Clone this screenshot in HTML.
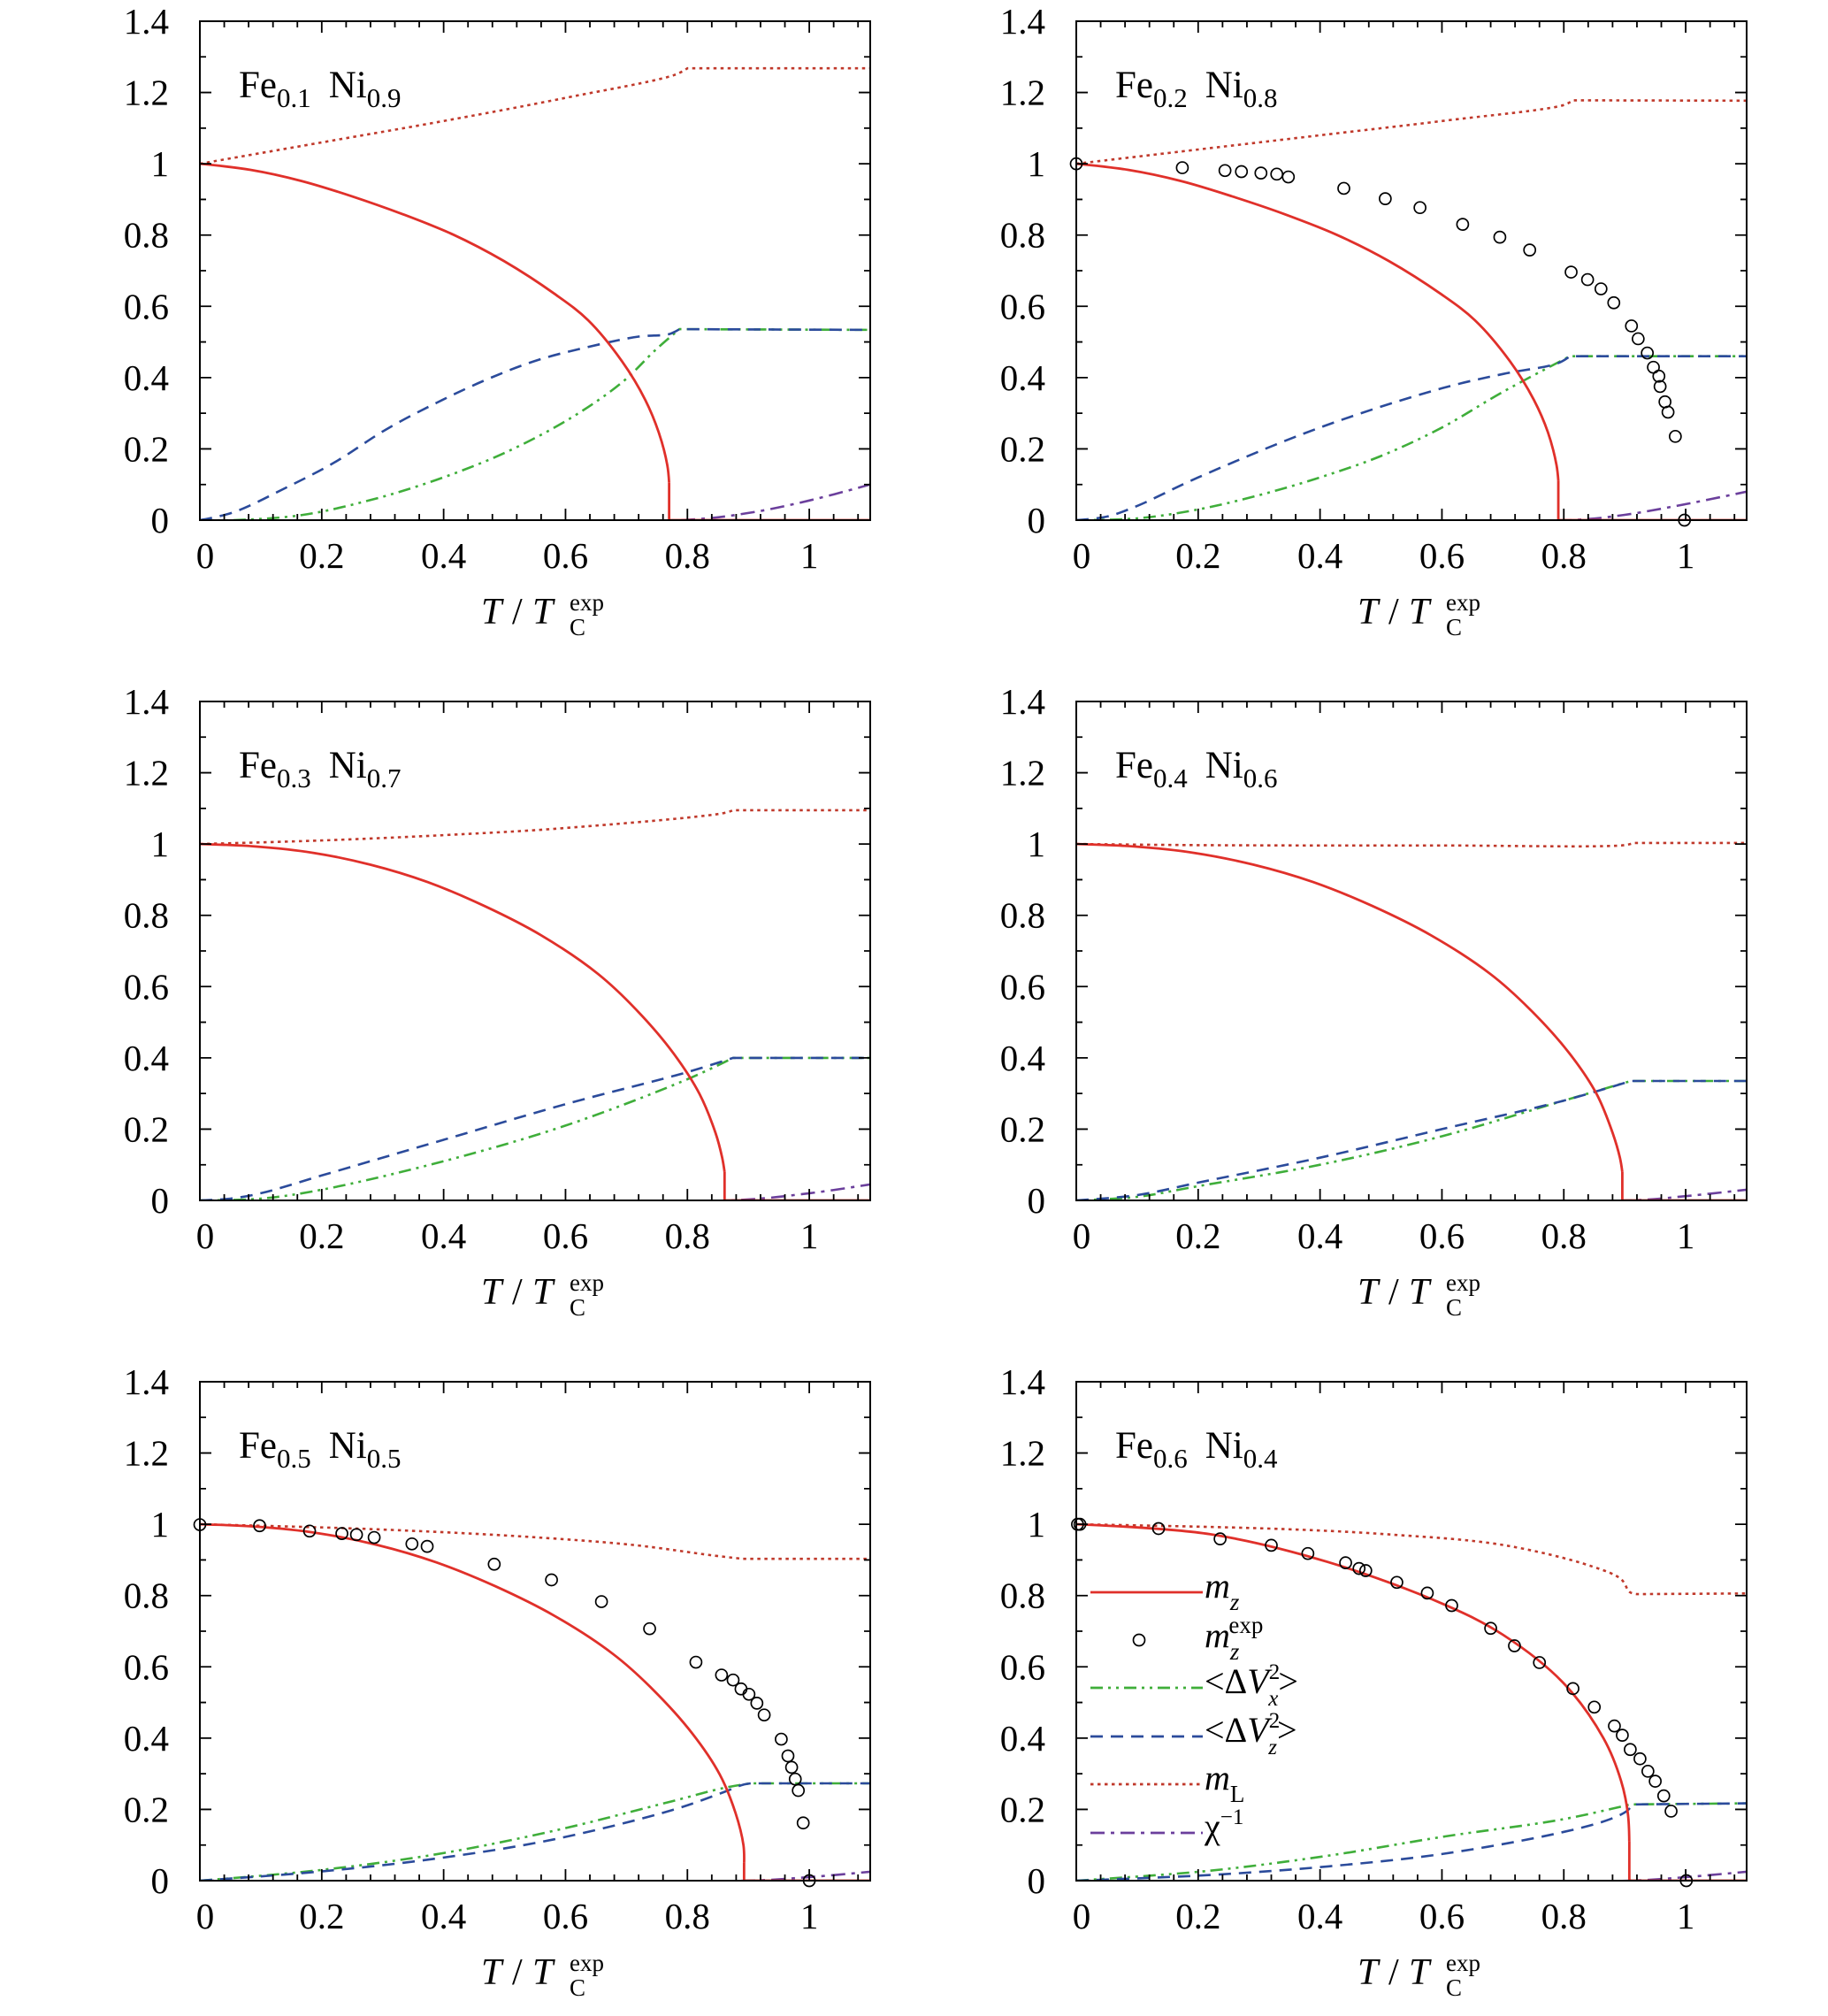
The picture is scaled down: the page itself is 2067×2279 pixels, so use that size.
<!DOCTYPE html>
<html><head><meta charset="utf-8">
<style>
html,body{margin:0;padding:0;background:#fff;}
svg{display:block;}
text{font-family:"Liberation Serif",serif;fill:#000;}
</style></head>
<body>
<svg id="chart" width="2067" height="2279" viewBox="0 0 2067 2279" xmlns="http://www.w3.org/2000/svg"></svg>
<script>
// ---- data (T/Tc, value) ----
const xTicks = [0,0.2,0.4,0.6,0.8,1];
const xTickLabels = ["0","0.2","0.4","0.6","0.8","1"];
const yTicks = [0,0.2,0.4,0.6,0.8,1,1.2,1.4];
const yTickLabels = ["0","0.2","0.4","0.6","0.8","1","1.2","1.4"];
const fe = ["0.1","0.2","0.3","0.4","0.5","0.6"];
const ni = ["0.9","0.8","0.7","0.6","0.5","0.4"];

const mz1 = [[0,1],[0.083,0.983],[0.166,0.952],[0.249,0.909],[0.332,0.859],[0.416,0.801],[0.499,0.727],[0.582,0.635],[0.637,0.561],[0.693,0.445],[0.731,0.337],[0.753,0.246],[0.767,0.155],[0.77,0.105]];
const mz2 = [[0,1],[0.085,0.983],[0.171,0.952],[0.255,0.909],[0.341,0.859],[0.427,0.801],[0.513,0.727],[0.598,0.635],[0.654,0.561],[0.712,0.445],[0.751,0.337],[0.774,0.246],[0.788,0.155],[0.791,0.11]];
const mz3 = [[0,1],[0.093,0.993],[0.187,0.975],[0.28,0.942],[0.374,0.893],[0.467,0.826],[0.56,0.744],[0.653,0.636],[0.715,0.537],[0.777,0.413],[0.82,0.298],[0.846,0.19],[0.857,0.12],[0.861,0.08]];
const mz4 = [[0,1],[0.097,0.993],[0.194,0.975],[0.291,0.942],[0.389,0.893],[0.486,0.826],[0.582,0.744],[0.679,0.636],[0.744,0.537],[0.809,0.413],[0.854,0.298],[0.88,0.19],[0.892,0.12],[0.896,0.08]];
const mz5 = [[0,1],[0.097,0.993],[0.194,0.975],[0.291,0.942],[0.388,0.893],[0.485,0.826],[0.581,0.744],[0.678,0.636],[0.743,0.537],[0.808,0.413],[0.853,0.298],[0.879,0.19],[0.892,0.099],[0.893,0.05]];
const mz6 = [[0,1],[0.22,0.972],[0.413,0.894],[0.605,0.774],[0.70,0.69],[0.798,0.557],[0.865,0.40],[0.894,0.28],[0.905,0.19],[0.9075,0.11]];
const tc = [0.77,0.791,0.861,0.896,0.893,0.9075];

const mL1 = [[0,1],[0.2,1.06],[0.4,1.12],[0.6,1.185],[0.78,1.25],[0.8,1.268],[1.1,1.268]];
const mL2 = [[0,1],[0.2,1.04],[0.4,1.08],[0.6,1.12],[0.8,1.165],[0.815,1.178],[1.1,1.177]];
const mL3 = [[0,1],[0.2,1.01],[0.4,1.025],[0.6,1.045],[0.86,1.087],[0.875,1.095],[1.1,1.095]];
const mL4 = [[0,1],[0.2,0.997],[0.4,0.996],[0.6,0.996],[0.9,0.997],[0.915,1.003],[1.1,1.003]];
const mL5 = [[0,1],[0.258,0.988],[0.517,0.967],[0.711,0.942],[0.84,0.913],[0.891,0.903],[1.1,0.903]];
const mL6 = [[0,1],[0.317,0.988],[0.509,0.972],[0.70,0.942],[0.846,0.882],[0.894,0.846],[0.908,0.81],[0.92,0.804],[1.1,0.806]];

const vz1 = [[0,0],[0.055,0.022],[0.139,0.089],[0.222,0.163],[0.305,0.254],[0.388,0.329],[0.471,0.395],[0.554,0.449],[0.637,0.486],[0.72,0.515],[0.77,0.522],[0.787,0.536],[1.1,0.534]];
const vz2 = [[0,0],[0.05,0.01],[0.1,0.04],[0.2,0.12],[0.4,0.26],[0.6,0.37],[0.7,0.41],[0.79,0.44],[0.81,0.46],[1.1,0.46]];
const vz3 = [[0,0],[0.05,0.005],[0.1,0.02],[0.2,0.07],[0.4,0.17],[0.6,0.27],[0.8,0.36],[0.875,0.4],[1.1,0.4]];
const vz4 = [[0,0],[0.1,0.015],[0.2,0.05],[0.4,0.12],[0.6,0.2],[0.8,0.28],[0.91,0.335],[1.1,0.335]];
const vz5 = [[0,0],[0.194,0.025],[0.388,0.062],[0.581,0.116],[0.775,0.198],[0.859,0.248],[0.891,0.269],[0.904,0.273],[1.1,0.273]];
const vz6 = [[0,0],[0.22,0.016],[0.413,0.04],[0.605,0.076],[0.798,0.136],[0.875,0.172],[0.904,0.196],[0.913,0.214],[1.1,0.217]];

const vx1 = [[0,0],[0.055,0],[0.166,0.014],[0.277,0.055],[0.388,0.113],[0.499,0.188],[0.609,0.287],[0.693,0.387],[0.748,0.478],[0.787,0.536],[1.1,0.534]];
const vx2 = [[0,0],[0.1,0.005],[0.2,0.03],[0.3,0.07],[0.4,0.12],[0.5,0.18],[0.6,0.26],[0.7,0.36],[0.81,0.46],[1.1,0.46]];
const vx3 = [[0,0],[0.1,0.005],[0.2,0.03],[0.4,0.11],[0.6,0.21],[0.8,0.34],[0.875,0.4],[1.1,0.4]];
const vx4 = [[0,0],[0.1,0.01],[0.2,0.04],[0.4,0.1],[0.6,0.18],[0.8,0.28],[0.91,0.335],[1.1,0.335]];
const vx5 = [[0,0],[0.194,0.029],[0.388,0.074],[0.581,0.14],[0.775,0.223],[0.859,0.26],[0.904,0.273],[1.1,0.273]];
const vx6 = [[0,0],[0.22,0.028],[0.413,0.07],[0.605,0.124],[0.798,0.172],[0.909,0.214],[1.1,0.217]];

const chi1 = [[0,0],[0.79,0],[0.9,0.02],[1.0,0.055],[1.1,0.1]];
const chi2 = [[0,0],[0.81,0],[0.9,0.015],[1.0,0.045],[1.1,0.08]];
const chi3 = [[0,0],[0.87,0],[1.0,0.02],[1.1,0.045]];
const chi4 = [[0,0],[0.91,0],[1.0,0.012],[1.1,0.03]];
const chi5 = [[0,0],[0.9,0],[1.0,0.01],[1.1,0.025]];
const chi6 = [[0,0],[0.91,0],[1.0,0.01],[1.1,0.025]];

const exp2 = [[0,1.0],[0.174,0.989],[0.244,0.981],[0.271,0.978],[0.303,0.974],[0.329,0.971],[0.348,0.963],[0.439,0.931],[0.507,0.902],[0.564,0.877],[0.634,0.83],[0.695,0.794],[0.744,0.758],[0.812,0.696],[0.839,0.675],[0.861,0.649],[0.882,0.61],[0.911,0.545],[0.922,0.509],[0.937,0.469],[0.947,0.429],[0.956,0.404],[0.958,0.375],[0.966,0.332],[0.971,0.303],[0.983,0.235],[0.998,0]];
const exp5 = [[0,0.999],[0.098,0.996],[0.18,0.981],[0.233,0.974],[0.257,0.971],[0.286,0.963],[0.348,0.945],[0.373,0.938],[0.483,0.888],[0.577,0.844],[0.659,0.783],[0.738,0.707],[0.814,0.613],[0.856,0.577],[0.875,0.563],[0.888,0.538],[0.901,0.523],[0.914,0.498],[0.926,0.465],[0.954,0.397],[0.965,0.35],[0.971,0.318],[0.977,0.285],[0.982,0.253],[0.99,0.162],[1.0,0]];
const exp6 = [[0.002,1.0],[0.006,1.0],[0.135,0.988],[0.236,0.959],[0.32,0.941],[0.38,0.918],[0.442,0.892],[0.464,0.876],[0.475,0.87],[0.526,0.837],[0.576,0.807],[0.616,0.772],[0.68,0.708],[0.719,0.659],[0.76,0.612],[0.815,0.539],[0.85,0.487],[0.883,0.434],[0.896,0.408],[0.909,0.368],[0.925,0.342],[0.938,0.307],[0.95,0.279],[0.964,0.238],[0.976,0.195],[1.001,0]];

const mzAll=[mz1,mz2,mz3,mz4,mz5,mz6], mLAll=[mL1,mL2,mL3,mL4,mL5,mL6];
const vzAll=[vz1,vz2,vz3,vz4,vz5,vz6], vxAll=[vx1,vx2,vx3,vx4,vx5,vx6];
const chiAll=[chi1,chi2,chi3,chi4,chi5,chi6], expAll=[null,exp2,null,null,exp5,exp6];

// ---- layout ----
const NS="http://www.w3.org/2000/svg";
const svg=document.getElementById('chart');
const PW=758, PH=564;
const origins=[[226,24],[1217,24],[226,793],[1217,793],[226,1562],[1217,1562]];
const C={mz:'#e0302a',vz:'#2b4b9b',vx:'#3fae3a',mL:'#c0392b',chi:'#6b3f9c'};
function mk(tag,attrs,parent){const e=document.createElementNS(NS,tag);for(const k in attrs)e.setAttribute(k,attrs[k]);(parent||svg).appendChild(e);return e;}
function smooth(pts){ // centripetal Catmull-Rom
  const f=v=>v.toFixed(1);
  let d='M'+f(pts[0][0])+','+f(pts[0][1]);
  const dist=(a,b)=>Math.pow(Math.hypot(a[0]-b[0],a[1]-b[1]),0.5);
  for(let i=0;i<pts.length-1;i++){
    const p0=pts[i-1]||pts[i],p1=pts[i],p2=pts[i+1],p3=pts[i+2]||p2;
    const d1=dist(p0,p1),d2=dist(p1,p2),d3=dist(p2,p3);
    let b1,b2;
    if(d1<1e-6||d2<1e-6)b1=p1;else b1=[0,1].map(k=>(d1*d1*p2[k]-d2*d2*p0[k]+(2*d1*d1+3*d1*d2+d2*d2)*p1[k])/(3*d1*(d1+d2)));
    if(d3<1e-6||d2<1e-6)b2=p2;else b2=[0,1].map(k=>(d3*d3*p1[k]-d2*d2*p3[k]+(2*d3*d3+3*d3*d2+d2*d2)*p2[k])/(3*d3*(d3+d2)));
    d+=' C'+f(b1[0])+','+f(b1[1])+' '+f(b2[0])+','+f(b2[1])+' '+f(p2[0])+','+f(p2[1]);
  }
  return d;
}

for(let p=0;p<6;p++){
  const [ox,oy]=origins[p];
  const sx=v=>ox+v/1.1*PW, sy=v=>oy+PH-v/1.4*PH;
  const g=mk('g',{});
  
  
  const clipId='clip'+p;
  const cp=mk('clipPath',{id:clipId},g); mk('rect',{x:ox,y:oy-2,width:PW,height:PH+2},cp);
  const plot=mk('g',{'clip-path':'url(#'+clipId+')'},g);
  const line=(data,color,dash,name,w,plateau)=>{
    const pts=data.map(q=>[sx(q[0]),sy(q[1])]);
    let d;
    if(plateau){const l=pts[pts.length-1];d=smooth(pts.slice(0,-1))+' L'+l[0].toFixed(1)+','+l[1].toFixed(1);}
    else d=smooth(pts);
    const e=mk('path',{d:d,fill:'none',stroke:color,'stroke-width':w||2.6,'stroke-dasharray':dash||'none'},plot);
    
    
  };
  line(chiAll[p],C.chi,'16,7,4,7','chi-inverse-curve');
  line(vxAll[p],C.vx,'14,6,3,6,3,6','delta-vx2-curve',2.6,true);
  line(vzAll[p],C.vz,'14,9','delta-vz2-curve',2.6,true);
  line(mLAll[p],C.mL,'3.5,4.5','mL-curve',2.6,true);
  line(mzAll[p],C.mz,null,'mz-curve',2.8);
  const last=mzAll[p][mzAll[p].length-1];
  const drop=mk('path',{d:'M'+sx(last[0])+','+sy(last[1])+' L'+sx(tc[p])+','+sy(0)+' L'+sx(1.1)+','+sy(0),fill:'none',stroke:C.mz,'stroke-width':2.8},plot);
  
  
  if(expAll[p]){
    for(const q of expAll[p]){
      const c=mk('circle',{cx:sx(q[0]),cy:sy(q[1]),r:6.5,fill:'none',stroke:'#000','stroke-width':1.7},g);
      
      
    }
  }
  const fr=mk('rect',{x:ox,y:oy,width:PW,height:PH,fill:'none',stroke:'#000','stroke-width':2},g);
  
  
  let td='';
  for(let i=0;i<=27;i++){const v=i*0.04;if(v>1.1001)break;const x=sx(v);const L=(i%5===0)?13:7;td+='M'+x+','+(oy+PH)+'v'+(-L)+'M'+x+','+oy+'v'+L;}
  for(let i=0;i<=14;i++){const v=i*0.1;const y=sy(v);const L=(i%2===0)?13:7;td+='M'+ox+','+y+'h'+L+'M'+(ox+PW)+','+y+'h'+(-L);}
  const tk=mk('path',{d:td,stroke:'#000','stroke-width':1.8,fill:'none'},g);
  
  
  xTicks.forEach((v,i)=>{const t=mk('text',{x:sx(v)+(v===0?6:0),y:oy+PH+54,'font-size':41,'text-anchor':'middle'},g);t.textContent=xTickLabels[i];
    });
  yTicks.forEach((v,i)=>{const t=mk('text',{x:ox-35,y:sy(v)+14,'font-size':41,'text-anchor':'end'},g);t.textContent=yTickLabels[i];
    });
  const ax=ox+318, ab=oy+PH+117;
  const parts=[['T',0,42,true,0],['/',35,42,false,0],['T',58,42,true,0],['exp',100,27,false,-15],['C',100,27,false,13]];
  parts.forEach(pt=>{
    const t=mk('text',{x:ax+pt[1],y:ab+pt[4],'font-size':pt[2]},g);
    if(pt[3])t.setAttribute('font-style','italic');
    t.textContent=pt[0];
    
    
  });
  const tt=mk('text',{x:ox+44,y:oy+86,'font-size':43},g);
  
  
  tt.innerHTML='Fe<tspan font-size="31" dy="11">'+fe[p]+'</tspan><tspan dx="20" dy="-11">Ni</tspan><tspan font-size="31" dy="11">'+ni[p]+'</tspan>';
}

// ---- legend in last panel ----
const legX1=1233, legX2=1380, legTX=1362;
const legY=[1800,1854,1908,1963,2017,2072];
const lg=mk('g',{});


function legLine(y,color,dash,name){const e=mk('line',{x1:legX1,x2:legX2-20,y1:y,y2:y,stroke:color,'stroke-width':2.8,'stroke-dasharray':dash||'none'},lg);
  }
legLine(legY[0],C.mz,null,'legend-mz-line');
const lc=mk('circle',{cx:1288,cy:legY[1],r:6.5,fill:'none',stroke:'#000','stroke-width':1.7},lg);

legLine(legY[2],C.vx,'14,6,3,6,3,6','legend-vx-line');
legLine(legY[3],C.vz,'14,9','legend-vz-line');
legLine(legY[4],C.mL,'3.5,4.5','legend-mL-line');
legLine(legY[5],C.chi,'16,7,4,7','legend-chi-line');
const labels=[
 '<tspan font-style="italic">m</tspan><tspan font-style="italic" font-size="27" dy="14">z</tspan>',
 '<tspan font-style="italic">m</tspan><tspan font-style="italic" font-size="27" dy="14">z</tspan><tspan font-size="27" dx="-12" dy="-30">exp</tspan>',
 '&lt;Δ<tspan font-style="italic">V</tspan><tspan font-size="25" dy="-16">2</tspan><tspan font-style="italic" font-size="25" dx="-13" dy="30">x</tspan><tspan dy="-14">&gt;</tspan>',
 '&lt;Δ<tspan font-style="italic">V</tspan><tspan font-size="25" dy="-16">2</tspan><tspan font-style="italic" font-size="25" dx="-13" dy="30">z</tspan><tspan dy="-14">&gt;</tspan>',
 '<tspan font-style="italic">m</tspan><tspan font-size="27" dy="14">L</tspan>',
 'χ<tspan font-size="25" dy="-16">−1</tspan>'];
const legNames=['legend-mz','legend-mz-exp','legend-delta-vx2','legend-delta-vz2','legend-mL','legend-chi-inverse'];
labels.forEach((h,i)=>{const t=mk('text',{x:legTX,y:legY[i]+(i===1?8:6),'font-size':40},lg);t.innerHTML=h;
  });
</script>
</body></html>
